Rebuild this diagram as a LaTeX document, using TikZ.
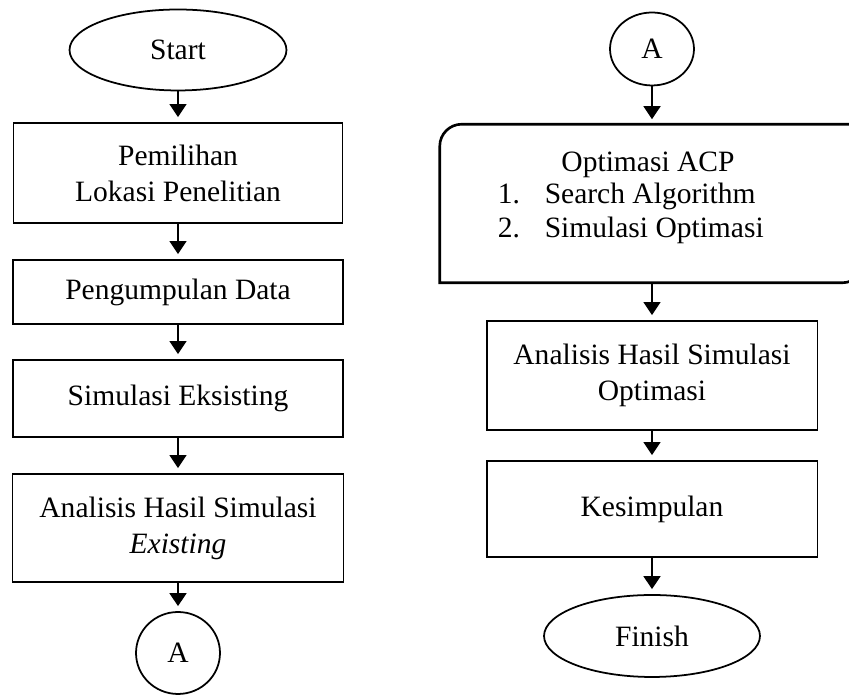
\documentclass[tikz,border=0pt]{standalone}
\usepackage{fontspec}
\setmainfont{Liberation Serif}
\usetikzlibrary{arrows.meta,shapes.geometric,positioning}

\begin{document}
\begin{tikzpicture}[x=0.02cm,y=0.02cm,->,>={Triangle[length=0.26cm,width=0.34cm]},line width=0.9pt,shorten >=0.1cm]
\tikzstyle{every node}=[font=\fontsize{16.8}{20.5}\selectfont]
\tikzstyle{proc}=[draw,rectangle,line width=1.1pt,align=center,inner sep=0pt]
\tikzstyle{term}=[draw,ellipse,line width=1pt,inner sep=0pt]
\tikzstyle{txt}=[inner sep=0pt]

\useasboundingbox (0,0) rectangle (849,695);

% left column
\node[term,minimum width=4.34cm,minimum height=1.62cm]	(A) at (178,645) {Start};
\node[proc,minimum width=6.58cm,minimum height=2cm]	(B) at (178,522) {Pemilihan\\Lokasi Penelitian};
\node[proc,minimum width=6.6cm,minimum height=1.28cm]	(C) at (178,403) {Pengumpulan Data};
\node[proc,minimum width=6.6cm,minimum height=1.54cm]	(D) at (178,296.5) {Simulasi Eksisting};
\node[proc,minimum width=6.62cm,minimum height=2.16cm]	(E) at (178,167) {Analisis Hasil Simulasi\\\textit{Existing}};
\node[term,minimum width=1.68cm,minimum height=1.64cm]	(F) at (178,42) {A};

% right column
\node[term,minimum width=1.68cm,minimum height=1.46cm]	(G) at (652,646) {A};
\node[minimum width=8.46cm,minimum height=3.14cm,inner sep=0pt]	(H) at (652,491.5) {};
\draw[-,shorten >=0pt,line width=1.5pt] (H.south west) -- ([yshift=-0.44cm]H.north west)
  arc[start angle=180,end angle=90,radius=0.44cm] -- (H.north east) -- ([yshift=0.44cm]H.south east)
  arc[start angle=0,end angle=-90,radius=0.44cm] -- cycle;
\node[txt,anchor=base]		(H0) at (648,523) {Optimasi ACP};
\node[txt,anchor=base west]	(H1) at (497,491) {1.};
\node[txt,anchor=base west]	(H2) at (544,491) {Search Algorithm};
\node[txt,anchor=base west]	(H3) at (497,457) {2.};
\node[txt,anchor=base west]	(H4) at (544,457) {Simulasi Optimasi};
\node[proc,minimum width=6.62cm,minimum height=2.18cm]	(I) at (652,319.5) {Analisis Hasil Simulasi\\Optimasi};
\node[proc,minimum width=6.62cm,minimum height=1.92cm]	(J) at (652,186) {Kesimpulan};
\node[term,minimum width=4.32cm,minimum height=1.64cm]	(K) at (652,59) {Finish};

\path
(A) edge (B)
(B) edge (C)
(C) edge (D)
(D) edge (E)
(E) edge (F)
(G) edge (H)
(H) edge (I)
(I) edge (J)
(J) edge (K)
;
\end{tikzpicture}
\end{document}
